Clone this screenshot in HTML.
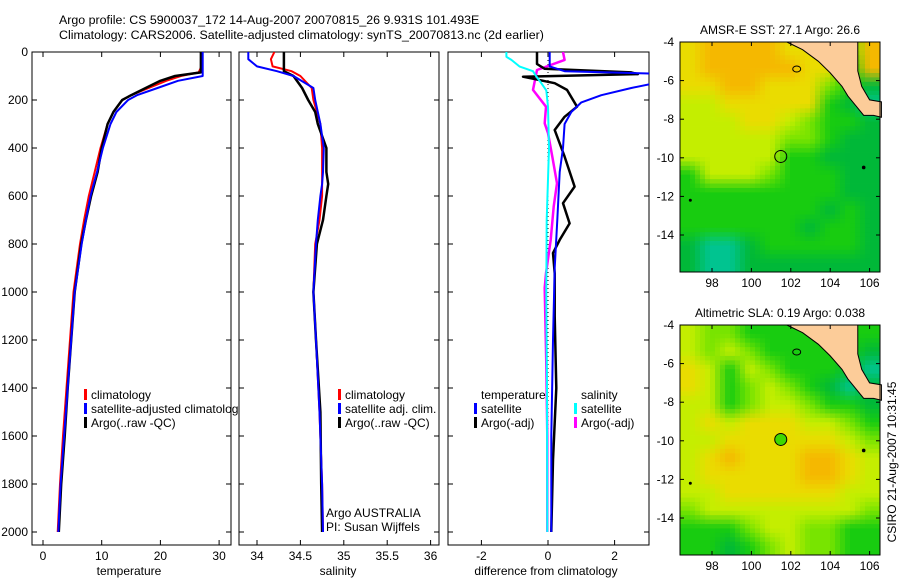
<!DOCTYPE html>
<html><head><meta charset="utf-8">
<style>
html,body{margin:0;padding:0;background:#fff;}
svg{display:block;font-family:"Liberation Sans",sans-serif;}
text{font-size:12px;fill:#000;}
</style></head>
<body>
<svg id="chart" width="900" height="580" viewBox="0 0 900 580" xmlns="http://www.w3.org/2000/svg">
<text x="59" y="24" style="font-size:12.4px">Argo profile: CS 5900037_172 14-Aug-2007 20070815_26 9.931S 101.493E</text>
<text x="59" y="39" style="font-size:12.4px">Climatology: CARS2006. Satellite-adjusted climatology: synTS_20070813.nc (2d earlier)</text>
<g id="p1"></g>
<g id="p2"></g>
<g id="p3"></g>
<g id="m1"></g>
<g id="m2"></g>
<text transform="translate(896,462) rotate(-90)" text-anchor="middle">CSIRO 21-Aug-2007 10:31:45</text>
</svg>
<script>
// ---- data ----
const tDepth=[0,60,85,100,120,150,180,200,250,300,400,500,600,700,800,1000,1200,1400,1600,1800,2000];
const tClim=[27.0,27.0,26.5,23.5,21,18,15,13.5,12,11,9.8,8.8,7.8,7.0,6.3,5.2,4.6,4.0,3.4,2.9,2.5];
const tSat=[27.2,27.2,27.2,27.2,23,19.5,16,14.5,12.5,11.5,10.2,9.2,8.1,7.3,6.6,5.4,4.8,4.2,3.6,3.0,2.6];
const tArgo=[26.9,26.9,26.9,22.5,20,17.5,15,13.5,12,11,10,9.3,8.2,7.3,6.5,5.4,4.8,4.2,3.7,3.1,2.7];
const sDepth=[0,30,60,80,100,150,200,250,300,400,500,550,600,700,800,1000,1200,1500,1800,2000];
const sClim=[34.2,34.16,34.18,34.4,34.5,34.63,34.65,34.69,34.73,34.75,34.75,34.75,34.75,34.72,34.67,34.65,34.68,34.72,34.75,34.76];
const sSat=[33.9,33.9,34.0,34.23,34.42,34.65,34.67,34.7,34.73,34.77,34.76,34.75,34.73,34.7,34.68,34.65,34.68,34.72,34.75,34.76];
const sArgo=[34.31,34.31,34.31,34.31,34.42,34.52,34.59,34.67,34.7,34.8,34.8,34.82,34.8,34.76,34.69,34.65,34.68,34.73,34.74,34.75];
const dTSatDepth=[0,60,80,90,110,130,150,180,210,250,300,400,500,700,900,1200,1600,2000];
const dTSat=[0.05,0.05,0.5,3.2,3.2,3.2,2.5,1.6,1.0,0.7,0.5,0.45,0.35,0.28,0.2,0.15,0.1,0.1];
const dTArgoDepth=[0,50,70,85,92,103,130,158,228,270,325,436,561,630,714,783,838,922,1100,1400,1700,2000];
const dTArgo=[-0.33,-0.33,-0.1,2.5,2.7,-0.75,0.2,0.57,0.87,0.5,0.2,0.5,0.8,0.45,0.65,0.35,0.15,0.2,0.2,0.25,0.15,0.1];
const dSArgoDepth=[0,33,75,158,228,297,338,436,547,644,783,922,983,1300,1600,2000];
const dSArgo=[0.45,0.5,-0.33,-0.45,-0.06,-0.1,0,0.13,0.27,0.17,0.08,-0.06,-0.1,-0.05,-0.02,-0.02];
const dSSatDepth=[0,20,33,61,80,100,130,160,228,400,700,1000,1400,2000];
const dSSat=[-1.25,-1.25,-1.1,-0.85,-0.45,-0.36,-0.2,-0.05,0,0.03,-0.04,-0.05,-0.03,-0.02];
const depthTicks=[0,200,400,600,800,1000,1200,1400,1600,1800,2000];
const tTicks=[0,10,20,30];
const sTicks=[34,34.5,35,35.5,36];
const dTicks=[-2,0,2];
const lonTicks=[98,100,102,104,106];
const latTicks=[-4,-6,-8,-10,-12,-14];
const sstGrid=["YOOOOYYYGO","YOOOOOYYgO","YYOOYYYGgd","LLYYYYYgdc","LLLYYLGggd","LLLLLGGgdd","LLLLLggddd","gLLLGgggdd","ggggggggdd","gggggggdgd","ggggggdggd","dccdgggggd","dccddddddd"];
const slaGrid=["LGGggggggg","LGLGgggggd","YLgLGgggdc","YLgGLGgdcd","LLgGLLGggd","LYLYYYLLGg","LLYYYYYYLG","LYOYYYOOYL","LYYYYYOOYL","LLYYYYYYLL","GLLLLLLLLG","gggGLLGGgg","ggdgGLGGgg"];
const palette={O:[245,184,0],Y:[234,220,0],L:[196,238,0],G:[120,228,0],g:[24,204,16],d:[0,184,56],c:[0,196,144]};
const landLonLat=[[101.8,-4],[102.6,-4.4],[103.4,-5],[104.0,-5.6],[104.6,-6.3],[104.9,-6.8],[105.3,-7.3],[105.7,-7.8],[106.2,-7.8],[106.6,-7.9],[106.6,-7.1],[106.0,-7.0],[105.6,-6.3],[105.4,-5.5],[105.4,-4]];
const argoPos=[101.49,-9.93];

const NS="http://www.w3.org/2000/svg";
function el(tag,attrs,parent,txt){const e=document.createElementNS(NS,tag);for(const k in attrs)e.setAttribute(k,attrs[k]);if(txt!==undefined)e.textContent=txt;parent.appendChild(e);return e;}
const Y0=52,YK=0.24; const yD=d=>Y0+d*YK;
const TOP=52,BOT=545;

function panel(g,x0,x1,xs,xticks,fmt,ylabels,xlabel,xlabelX){
  const r=el('rect',{x:x0,y:TOP,width:x1-x0,height:BOT-TOP,fill:'#fff',stroke:'#000','stroke-width':1},g);
  
  
  depthTicks.forEach(d=>{
    el('line',{x1:x0,x2:x0+5,y1:yD(d),y2:yD(d),stroke:'#000'},g);
    el('line',{x1:x1-5,x2:x1,y1:yD(d),y2:yD(d),stroke:'#000'},g);
    if(ylabels){const t=el('text',{x:x0-4,y:yD(d)+4,'text-anchor':'end'},g,d);
      
      }
  });
  xticks.forEach(v=>{
    const x=xs(v);
    el('line',{x1:x,x2:x,y1:BOT,y2:BOT-5,stroke:'#000'},g);
    el('line',{x1:x,x2:x,y1:TOP,y2:TOP+5,stroke:'#000'},g);
    const t=el('text',{x:x,y:BOT+15,'text-anchor':'middle'},g,fmt(v));
    
    
  });
  const xl=el('text',{x:xlabelX,y:575,'text-anchor':'middle'},g,xlabel);
  
  
}
function line(g,depths,vals,xs,color,w,name,clip){
  const pts=depths.map((d,i)=>xs(vals[i]).toFixed(1)+','+yD(d).toFixed(1)).join(' ');
  const p=el('polyline',{points:pts,fill:'none',stroke:color,'stroke-width':w,'stroke-linejoin':'round'},g);
  if(clip)p.setAttribute('clip-path',clip);
  
  
}
function legend(g,x,y,color,label){
  el('rect',{x:x,y:y-10,width:3,height:11,fill:color},g);
  const t=el('text',{x:x+7,y:y},g,label);
  
  
}
const svg=document.getElementById('chart');
const defs=el('defs',{},svg);
[['c1',32,231],['c2',239,439],['c3',448,649]].forEach(([id,a,b])=>{const c=el('clipPath',{id:id},defs);el('rect',{x:a,y:TOP,width:b-a,height:BOT-TOP},c);});

const p1=document.getElementById('p1');
const xT=v=>43+v*5.87;
panel(p1,32,231,xT,tTicks,v=>v,true,'temperature',129);
line(p1,tDepth,tClim,xT,'#f00',2,'climatology-temp-line');
line(p1,tDepth,tArgo,xT,'#000',2.5,'argo-temp-line');
line(p1,tDepth,tSat,xT,'#00f',2,'satellite-temp-line');
legend(p1,84,399,'#f00','climatology');
legend(p1,84,413,'#00f','satellite-adjusted climatology');
legend(p1,84,427,'#000','Argo(..raw -QC)');

const p2=document.getElementById('p2');
const xS=v=>257+(v-34)*86.8;
panel(p2,239,439,xS,sTicks,v=>v,false,'salinity',338);
line(p2,sDepth,sClim,xS,'#f00',2,'climatology-salinity-line','url(#c2)');
line(p2,sDepth,sArgo,xS,'#000',2.5,'argo-salinity-line','url(#c2)');
line(p2,sDepth,sSat,xS,'#00f',2,'satellite-salinity-line','url(#c2)');
legend(p2,338,399,'#f00','climatology');
legend(p2,338,413,'#00f','satellite adj. clim.');
legend(p2,338,427,'#000','Argo(..raw -QC)');
el('text',{x:326,y:517},p2,'Argo AUSTRALIA');
el('text',{x:326,y:531},p2,'PI: Susan Wijffels');

const p3=document.getElementById('p3');
const xDf=v=>548+v*33.3;
panel(p3,448,649,xDf,dTicks,v=>v,false,'difference from climatology',546);
el('line',{x1:548,x2:548,y1:yD(0),y2:yD(2000),stroke:'#000','stroke-dasharray':'1,3'},p3);
line(p3,dSArgoDepth,dSArgo,xDf,'#f0f',2.5,'argo-salinity-diff-line','url(#c3)');
line(p3,dTArgoDepth,dTArgo,xDf,'#000',2.5,'argo-temp-diff-line','url(#c3)');
line(p3,dTSatDepth,dTSat,xDf,'#00f',2,'satellite-temp-diff-line','url(#c3)');
line(p3,dSSatDepth,dSSat,xDf,'#0ff',2,'satellite-salinity-diff-line','url(#c3)');
el('text',{x:481,y:399},p3,'temperature');
legend(p3,474,413,'#00f','satellite');
legend(p3,474,427,'#000','Argo(-adj)');
el('text',{x:581,y:399},p3,'salinity');
legend(p3,574,413,'#0ff','satellite');
legend(p3,574,427,'#f0f','Argo(-adj)');

function map(g,top,grid,title,circleFill){
  const L=680,R=880,H=230,B=top+H;
  const lx=lon=>712+(lon-98)*19.7, ly=lat=>top+(-4-lat)*19.3;
  const rows=grid.length,cols=grid[0].length;
  const SUB=4, nr=rows*SUB, nc=cols*SUB, cw=(R-L)/nc, ch=H/nr;
  const col=(r,c)=>palette[grid[Math.max(0,Math.min(rows-1,r))][Math.max(0,Math.min(cols-1,c))]];
  for(let i=0;i<nr;i++)for(let j=0;j<nc;j++){
    const fr=(i+0.5)/SUB-0.5, fc=(j+0.5)/SUB-0.5;
    const r0=Math.floor(fr), c0=Math.floor(fc), ar=fr-r0, ac=fc-c0;
    const a=col(r0,c0),b=col(r0,c0+1),c=col(r0+1,c0),d=col(r0+1,c0+1);
    const rgb=[0,1,2].map(k=>Math.round(a[k]*(1-ar)*(1-ac)+b[k]*(1-ar)*ac+c[k]*ar*(1-ac)+d[k]*ar*ac));
    const rc=el('rect',{x:(L+j*cw).toFixed(2),y:(top+i*ch).toFixed(2),width:(cw+0.4).toFixed(2),height:(ch+0.4).toFixed(2),fill:'rgb('+rgb.join(',')+')'},g);
    
    
  }
  const land=el('polygon',{points:landLonLat.map(p=>lx(p[0])+','+ly(p[1])).join(' '),fill:'#fccc99',stroke:'#000','stroke-width':1},g);
  
  
  el('ellipse',{cx:lx(102.3),cy:ly(-5.4),rx:4,ry:3,fill:'none',stroke:'#000'},g);
  el('circle',{cx:lx(105.7),cy:ly(-10.5),r:1.8,fill:'#000'},g);
  el('circle',{cx:lx(96.9),cy:ly(-12.2),r:1.5,fill:'#000'},g);
  const ci=el('circle',{cx:lx(argoPos[0]),cy:ly(argoPos[1]),r:6,fill:circleFill,stroke:'#000'},g);
  
  
  el('rect',{x:L,y:top,width:R-L,height:H,fill:'none',stroke:'#000'},g);
  lonTicks.forEach(v=>{const x=lx(v);el('line',{x1:x,x2:x,y1:B,y2:B-4,stroke:'#000'},g);el('line',{x1:x,x2:x,y1:top,y2:top+4,stroke:'#000'},g);
    const t=el('text',{x:x,y:B+15,'text-anchor':'middle'},g,v);
    
    });
  latTicks.forEach(v=>{const y=ly(v);el('line',{x1:L,x2:L+4,y1:y,y2:y,stroke:'#000'},g);el('line',{x1:R-4,x2:R,y1:y,y2:y,stroke:'#000'},g);
    const t=el('text',{x:L-6,y:y+4,'text-anchor':'end'},g,v);
    
    });
  const tt=el('text',{x:780,y:top-8,'text-anchor':'middle'},g,title);
  
  
}
map(document.getElementById('m1'),42,sstGrid,'AMSR-E SST: 27.1 Argo: 26.6','none');
map(document.getElementById('m2'),325,slaGrid,'Altimetric SLA: 0.19 Argo: 0.038','#40d800');
</script>
</body></html>
